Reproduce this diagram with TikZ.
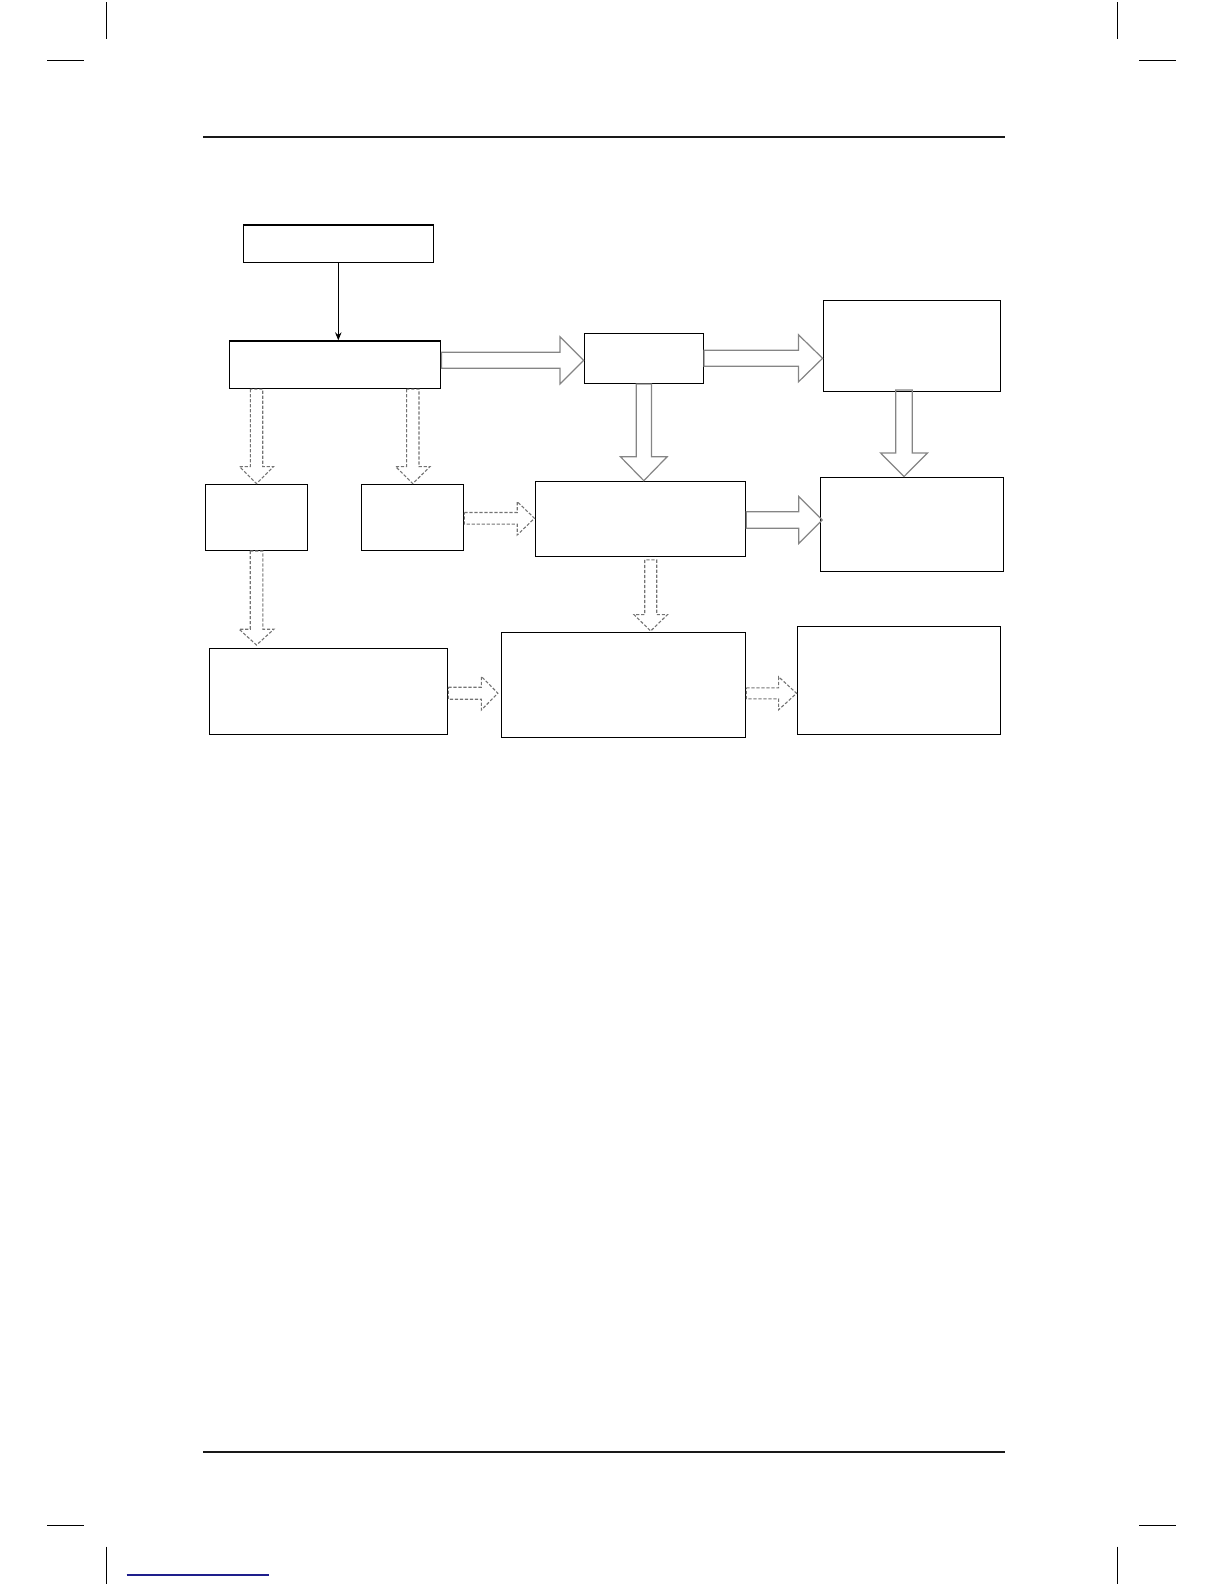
\documentclass[tikz,border=0pt]{standalone}
\usetikzlibrary{calc,arrows.meta}
\tikzset{
  box/.style={draw=black, line width=0.7bp, inner sep=0pt, rectangle},
  solidblock/.style={draw=black!48, line width=0.6bp},
  dashblock/.style={draw=black!55, line width=0.55bp, dash pattern=on 1.6bp off 0.9bp},
  rule/.style={line width=1.1bp, black!90},
  cropmark/.style={line width=0.7bp, black},
  thinarrow/.style={line width=0.6bp, -{Stealth[length=4bp,width=3.2bp]}}
}
% horizontal hollow block arrow: style, start, tip, half shaft, half head, head length
\newcommand\hblock[6]{%
  \draw[#1] let \p1=(#2), \p2=(#3) in
    (\x1,\y2+#4) -- (\x2-#6,\y2+#4) -- (\x2-#6,\y2+#5) -- (\x2,\y2)
    -- (\x2-#6,\y2-#5) -- (\x2-#6,\y2-#4) -- (\x1,\y2-#4) -- cycle;}
% downward hollow block arrow
\newcommand\vblock[6]{%
  \draw[#1] let \p1=(#2), \p2=(#3) in
    (\x2-#4,\y1) -- (\x2-#4,\y2+#6) -- (\x2-#5,\y2+#6) -- (\x2,\y2)
    -- (\x2+#5,\y2+#6) -- (\x2+#4,\y2+#6) -- (\x2+#4,\y1) -- cycle;}
\begin{document}
\begin{tikzpicture}[x=0.5bp,y=-0.5bp]
\useasboundingbox (0,0) rectangle (1224,1584);

% crop marks
\draw[cropmark] (106.5,2) -- (106.5,38.7);
\draw[cropmark] (47,60.3) -- (83.5,60.3);
\draw[cropmark] (1117.3,2) -- (1117.3,38.7);
\draw[cropmark] (1139,60.3) -- (1176,60.3);
\draw[cropmark] (106.5,1546.7) -- (106.5,1584);
\draw[cropmark] (47,1525.3) -- (83.5,1525.3);
\draw[cropmark] (1117.3,1546.7) -- (1117.3,1584);
\draw[cropmark] (1139,1525.3) -- (1176,1525.3);

% header / footer rules
\draw[rule] (203,136.7) -- (1005,136.7);
\draw[rule] (203,1451.7) -- (1005,1451.7);
\draw[line width=0.6bp, draw={rgb,255:red,30;green,30;blue,140}] (126.7,1575) -- (269,1575);

% boxes
\node[box, minimum width=95bp,    minimum height=18.65bp] (A) at (338.3,243.7) {};
\node[box, minimum width=105.7bp, minimum height=23.65bp] (B) at (335,364.7) {};
\node[box, minimum width=59.5bp,  minimum height=25bp]    (C) at (643.8,358.3) {};
\node[box, minimum width=88.7bp,  minimum height=45.5bp]  (J) at (912,345.8) {};
\node[box, minimum width=51.2bp,  minimum height=33bp]    (D) at (256.5,517.3) {};
\node[box, minimum width=51.2bp,  minimum height=33bp]    (E) at (412.5,517.3) {};
\node[box, minimum width=105.2bp, minimum height=37.4bp]  (F) at (640.4,518.8) {};
\node[box, minimum width=91.5bp,  minimum height=47bp]    (K) at (911.8,524.3) {};
\node[box, minimum width=119.2bp, minimum height=43bp]    (G) at (328.5,691.3) {};
\node[box, minimum width=122.2bp, minimum height=52.5bp]  (H) at (623.5,684.8) {};
\node[box, minimum width=101.5bp, minimum height=54bp]    (I) at (898.8,680.3) {};

% thin arrow A -> B
\draw[thinarrow] (A.south) -- (A.south |- B.north);

% solid hollow block arrows
\hblock{solidblock}{B.east}{$(C.west)+(0,2)$}{4bp}{11.8bp}{11.8bp}
\hblock{solidblock}{C.east}{J.west |- C.east}{4bp}{11.8bp}{12.1bp}
\vblock{solidblock}{C.south}{C.south |- F.north}{3.8bp}{11.7bp}{12bp}
\vblock{solidblock}{$(J.south)+(0,-2)$}{$(K.north)+(-7.8,0)$}{4.1bp}{11.7bp}{11.8bp}
\hblock{solidblock}{F.east}{$(K.west |- F.east)+(2.7,1.2)$}{4.15bp}{11.75bp}{11.8bp}

% dashed hollow block arrows
\vblock{dashblock}{B.south}{D.north}{3.1bp}{8.5bp}{8.5bp}
\vblock{dashblock}{B.south}{$(E.north)+(0.3,0)$}{3.1bp}{8.6bp}{8.5bp}
\hblock{dashblock}{E.east}{$(F.west |- E.east)+(0,1)$}{2.9bp}{8.35bp}{8.65bp}
\vblock{dashblock}{D.south}{$(D.south |- G.north)+(0,-2.6)$}{3.15bp}{8.7bp}{7.9bp}
\vblock{dashblock}{$(F.south)+(0,3)$}{$(H.north)+(27.2,-0.6)$}{3bp}{8.4bp}{8.2bp}
\hblock{dashblock}{G.east}{$(H.west |- G.east)+(-2.7,1.9)$}{3bp}{8.4bp}{8.3bp}
\hblock{dashblock}{H.east}{$(I.west |- H.east)+(0,8.5)$}{2.75bp}{8.25bp}{9bp}
\end{tikzpicture}
\end{document}
